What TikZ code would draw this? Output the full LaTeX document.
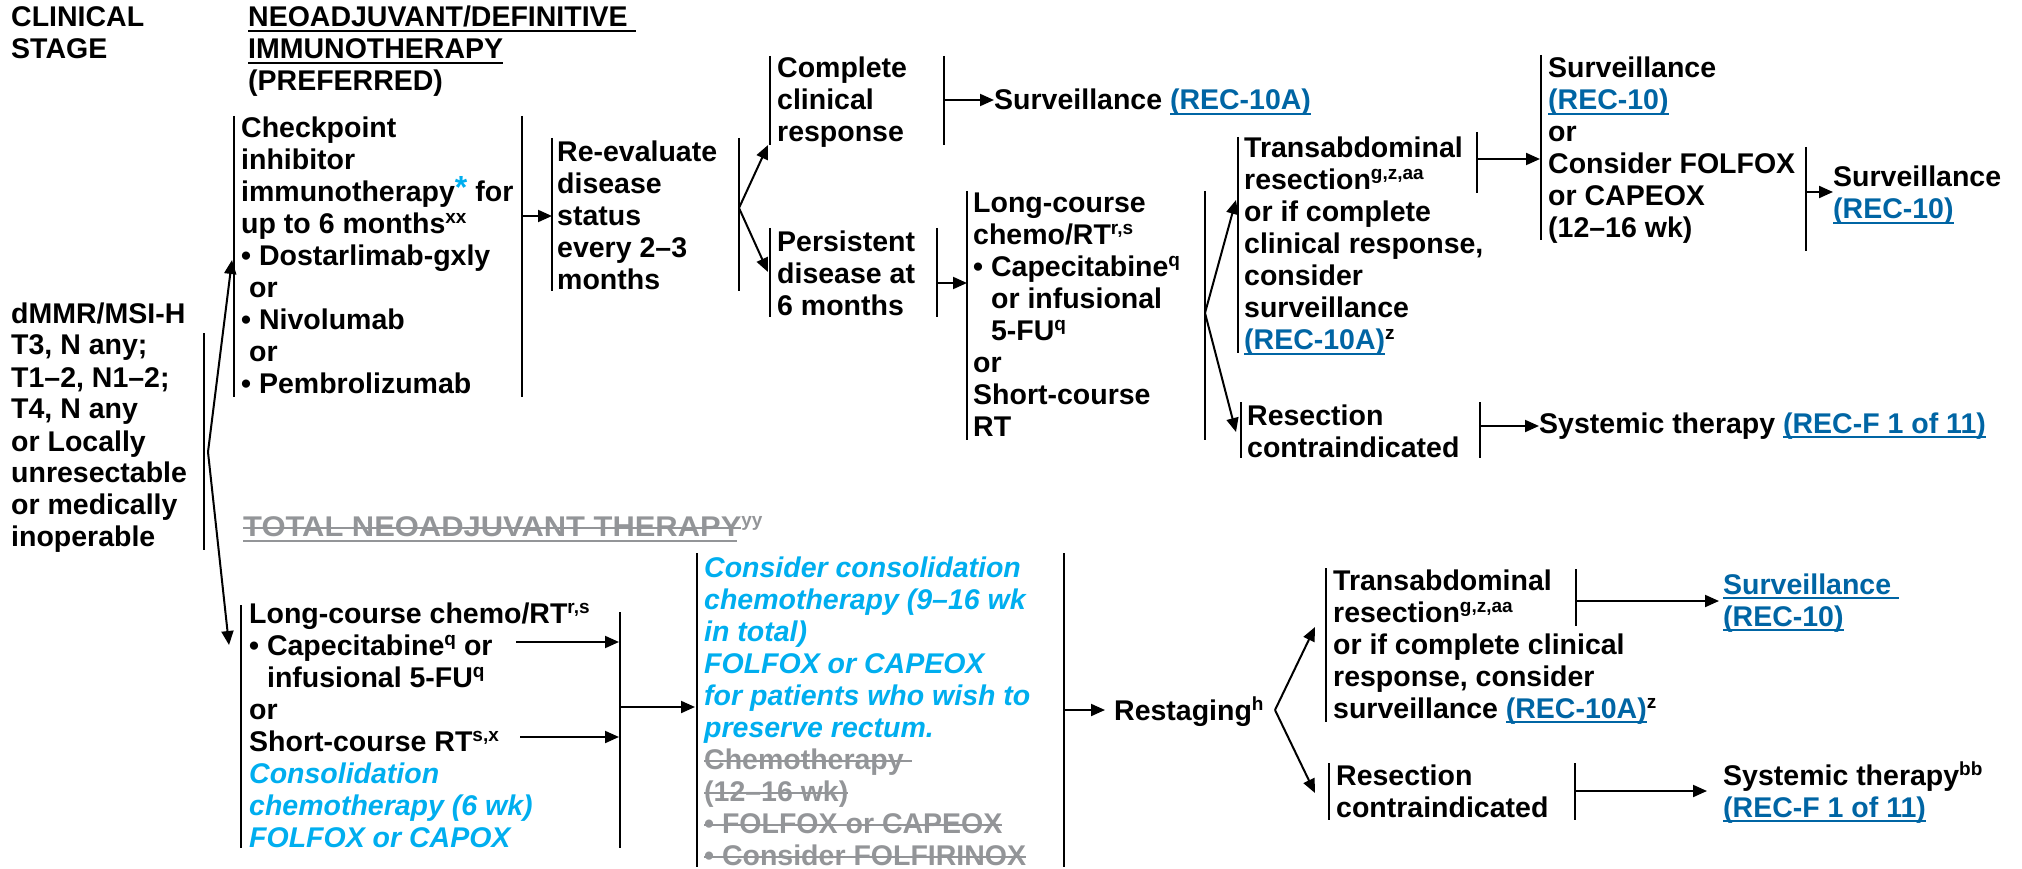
\documentclass[tikz,border=0pt]{standalone}
\usepackage{fontspec}
\setmainfont{Liberation Sans}
\usetikzlibrary{arrows.meta}
\definecolor{linkblue}{RGB}{0,101,164}
\definecolor{nccncyan}{RGB}{0,174,239}
\definecolor{strikegrey}{RGB}{147,149,152}
\newsavebox\myulbox
\newcommand\myul[1]{\leavevmode\sbox\myulbox{#1}\rlap{\vrule width\wd\myulbox height -3.4pt depth 5.2pt}\usebox\myulbox}
\newcommand\mystrike[1]{\leavevmode\sbox\myulbox{#1}\rlap{\vrule width\wd\myulbox height 9.2pt depth -7.4pt}\usebox\myulbox}
\newcommand\sups[1]{\raisebox{10pt}{\fontsize{19}{19}\selectfont #1}}
\newcommand\lnk[1]{{\color{linkblue}\myul{#1}}}
\newcommand\cy[1]{{\color{nccncyan}\itshape #1}}
\newcommand\gs[1]{{\color{strikegrey}\mystrike{#1}}}
\newcommand\ml[1]{\vtop{\baselineskip=32pt\lineskiplimit=-\maxdimen\lineskip=0pt\def\\{\cr\relax}\halign{##\hfil\cr\relax#1\crcr}}}
\tikzset{
  txt/.style={anchor=base west, inner sep=0pt, font=\bfseries\fontsize{28.5}{32}\selectfont},
  bar/.style={line width=2.4pt},
  arr/.style={line width=2pt, -{Triangle[length=14pt,width=12pt]}},
}
\begin{document}
\begin{tikzpicture}[x=1pt,y=-1pt]
\useasboundingbox (0,0) rectangle (2022,869);
% headers
\node[txt] (hdrA) at (11,27) {\ml{CLINICAL\\STAGE}};
\node[txt] (hdrB) at (248,27) {\ml{\myul{NEOADJUVANT/DEFINITIVE\ }\\\myul{IMMUNOTHERAPY}\\(PREFERRED)}};
% clinical stage
\node[txt] (stage) at (11,323) {\ml{dMMR/MSI-H\\T3, N any;\\T1--2, N1--2;\\T4, N any\\or Locally\\unresectable\\or medically\\inoperable}};
\draw[bar] (204,333) -- (204,550);
\coordinate (stsplit) at (208,452);
% checkpoint
\node[txt] (ck) at (241,138) {\ml{Checkpoint\\inhibitor\\immunotherapy{\color{nccncyan}\raisebox{3pt}{\fontsize{32}{32}\selectfont *}} for\\up to 6 months\sups{xx}\\\textbullet\ Dostarlimab-gxly\\\hspace*{8pt}or\\\textbullet\ Nivolumab\\\hspace*{8pt}or\\\textbullet\ Pembrolizumab}};
\draw[bar] (234,116) -- (234,397);
\draw[bar] (522,116) -- (522,397);
\coordinate (ckin) at (232,260);
\coordinate (ckout) at (522,216);
% re-evaluate
\node[txt] (re) at (557,162) {\ml{Re-evaluate\\disease\\status\\every 2--3\\months}};
\draw[bar] (552,138) -- (552,291);
\draw[bar] (739,138) -- (739,291);
\coordinate (rein) at (552,216);
\coordinate (resplit) at (739,208);
% complete clinical response
\node[txt] (cr) at (777,78) {\ml{Complete\\clinical\\response}};
\draw[bar] (770,56) -- (770,145);
\draw[bar] (944,56) -- (944,145);
\coordinate (crin) at (768,145);
\coordinate (crout) at (944,100);
\node[txt] (surv1) at (994,110) {\ml{Surveillance \lnk{(REC-10A)}}};
% persistent disease
\node[txt] (pd) at (777,252) {\ml{Persistent\\disease at\\6 months}};
\draw[bar] (770,228) -- (770,317);
\draw[bar] (937,228) -- (937,317);
\coordinate (pdin) at (768,272);
\coordinate (pdout) at (937,283);
% long-course (top)
\node[txt] (lc1) at (973,213) {\ml{Long-course\\chemo/RT\sups{r,s}\\\textbullet\ Capecitabine\sups{q}\\\phantom{\textbullet\ }or infusional\\\phantom{\textbullet\ }5-FU\sups{q}\\or\\Short-course\\RT}};
\draw[bar] (967,191) -- (967,440);
\draw[bar] (1205,191) -- (1205,440);
\coordinate (lc1in) at (967,283);
\coordinate (lc1split) at (1205,313);
% transabdominal (top)
\node[txt] (ta1) at (1244,158) {\ml{Transabdominal\\resection\sups{g,z,aa}\\or if complete\\clinical response,\\consider\\surveillance\\\lnk{(REC-10A)}\sups{z}}};
\draw[bar] (1238,137) -- (1238,353);
\draw[bar] (1477,132) -- (1477,193);
\coordinate (ta1in) at (1236,200);
\coordinate (ta1out) at (1477,159);
% resection contraindicated (top)
\node[txt] (rc1) at (1247,425) {\ml{Resection\\contraindicated}};
\draw[bar] (1241,402) -- (1241,458);
\draw[bar] (1480,402) -- (1480,458);
\coordinate (rc1in) at (1236,432);
\coordinate (rc1out) at (1480,426);
\node[txt] (sys1) at (1539,433) {\ml{Systemic therapy \lnk{(REC-F 1 of 11)}}};
% surveillance or FOLFOX
\node[txt] (sv2) at (1548,78) {\ml{Surveillance\\\lnk{(REC-10)}\\or\\Consider FOLFOX\\or CAPEOX\\(12--16 wk)}};
\draw[bar] (1541,55) -- (1541,240);
\draw[bar] (1806,147) -- (1806,251);
\coordinate (sv2in) at (1540,159);
\coordinate (sv2out) at (1806,192);
\node[txt] (sv3) at (1833,187) {\ml{Surveillance\\\lnk{(REC-10)}}};
% TNT header
\node[txt, text=strikegrey] (tnt) at (243,536) {\ml{\mystrike{\scalebox{1.085}[1]{TOTAL NEOADJUVANT THERAPY}}\sups{yy}}};
\coordinate (tntulA) at (243,541);
\coordinate (tntulB) at (737,541);
\draw[strikegrey, line width=1.8pt] (tntulA) -- (tntulB);
% long-course (bottom)
\node[txt] (lc2) at (249,623) {\ml{Long-course chemo/RT\sups{r,s}\\\textbullet\ Capecitabine\sups{q} or\\\phantom{\textbullet\ }infusional 5-FU\sups{q}\\or\\Short-course RT\sups{s,x}\\\cy{Consolidation}\\\cy{chemotherapy (6 wk)}\\\cy{FOLFOX or CAPOX}}};
\draw[bar] (241,605) -- (241,848);
\draw[bar] (620,612) -- (620,848);
\coordinate (lc2in) at (229,645);
\coordinate (capA) at (516,642);
\coordinate (capB) at (619,642);
\coordinate (scA) at (520,737);
\coordinate (scB) at (619,737);
\coordinate (lc2out) at (620,707);
% consolidation
\node[txt] (cons) at (704,577) {\ml{\cy{Consider consolidation}\\\cy{chemotherapy (9--16 wk}\\\cy{in total)}\\\cy{FOLFOX or CAPEOX}\\\cy{for patients who wish to}\\\cy{preserve rectum.}\\\gs{Chemotherapy\ }\\\gs{(12--16 wk)}\\\gs{\textbullet\ FOLFOX or CAPEOX}\\\gs{\textbullet\ Consider FOLFIRINOX}}};
\draw[bar] (697,553) -- (697,867);
\draw[bar] (1064,553) -- (1064,867);
\coordinate (consin) at (695,707);
\coordinate (consout) at (1064,710);
% restaging
\node[txt] (rest) at (1114,720) {\ml{Restaging\sups{h}}};
\coordinate (restin) at (1105,710);
\coordinate (restsplit) at (1275,710);
% transabdominal (bottom)
\node[txt] (ta2) at (1333,590) {\ml{Transabdominal\\resection\sups{g,z,aa}\\or if complete clinical\\response, consider\\surveillance \lnk{(REC-10A)}\sups{z}}};
\draw[bar] (1326,568) -- (1326,722);
\draw[bar] (1576,569) -- (1576,626);
\coordinate (ta2in) at (1315,627);
\coordinate (ta2out) at (1576,601);
\node[txt] (sv4) at (1723,594) {\ml{\lnk{Surveillance\ }\\\lnk{(REC-10)}}};
\coordinate (sv4in) at (1719,601);
% resection contraindicated (bottom)
\node[txt] (rc2) at (1336,785) {\ml{Resection\\contraindicated}};
\draw[bar] (1329,763) -- (1329,820);
\draw[bar] (1575,763) -- (1575,820);
\coordinate (rc2in) at (1315,793);
\coordinate (rc2out) at (1575,791);
\node[txt] (sys2) at (1723,785) {\ml{Systemic therapy\sups{bb}\\\lnk{(REC-F 1 of 11)}}};
\coordinate (sys2in) at (1707,791);
% arrows
\draw[arr] (stsplit) -- (ckin);
\draw[arr] (stsplit) -- (lc2in);
\draw[arr] (ckout) -- (rein);
\draw[arr] (resplit) -- (crin);
\draw[arr] (resplit) -- (pdin);
\draw[arr] (crout) -- (surv1.west |- crout);
\draw[arr] (pdout) -- (lc1in);
\draw[arr] (lc1split) -- (ta1in);
\draw[arr] (lc1split) -- (rc1in);
\draw[arr] (ta1out) -- (sv2in);
\draw[arr] (rc1out) -- (sys1.west |- rc1out);
\draw[arr] (sv2out) -- (sv3.west |- sv2out);
\draw[arr] (capA) -- (capB);
\draw[arr] (scA) -- (scB);
\draw[arr] (lc2out) -- (consin);
\draw[arr] (consout) -- (restin);
\draw[arr] (restsplit) -- (ta2in);
\draw[arr] (restsplit) -- (rc2in);
\draw[arr] (ta2out) -- (sv4in);
\draw[arr] (rc2out) -- (sys2in);
\end{tikzpicture}
\end{document}
